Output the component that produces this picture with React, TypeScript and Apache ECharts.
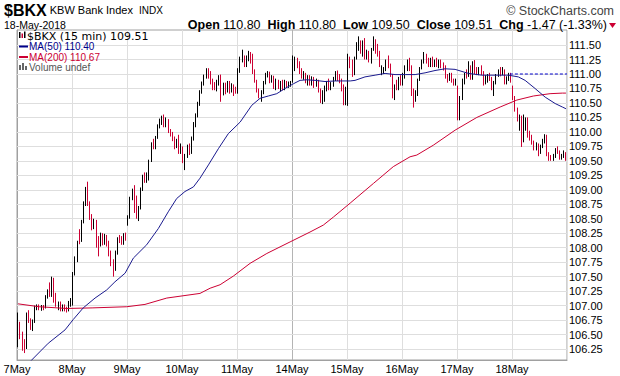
import React, { useEffect, useRef } from "react";
import * as echarts from "echarts";

type Candle = [number, number, number, number]; // open, close, low, high

const dayLabels = ["7May", "8May", "9May", "10May", "11May", "14May", "15May", "16May", "17May", "18May"];

const may07: Candle[] = [
  [106.45, 106.82, 106.28, 106.88], [106.70, 106.50, 106.42, 106.72], [106.50, 106.38, 106.22, 106.55],
  [106.38, 106.30, 106.18, 106.42], [106.30, 106.85, 106.25, 106.88], [106.85, 106.75, 106.70, 106.92],
  [106.75, 106.60, 106.58, 106.78], [106.60, 106.72, 106.56, 106.76], [106.72, 106.95, 106.70, 107.00],
  [106.95, 107.00, 106.92, 107.02], [107.00, 106.94, 106.92, 107.02], [106.94, 106.99, 106.91, 107.01],
  [106.99, 106.96, 106.92, 107.01], [106.96, 107.16, 106.95, 107.18], [107.16, 107.25, 107.12, 107.28],
  [107.38, 107.18, 107.15, 107.40], [107.18, 107.40, 107.15, 107.50], [107.45, 107.08, 107.05, 107.48],
  [107.10, 107.02, 106.98, 107.22], [107.02, 107.05, 106.92, 107.07], [107.05, 106.95, 106.90, 107.07],
  [106.95, 107.00, 106.90, 107.02], [107.00, 106.94, 106.90, 107.02], [106.94, 106.92, 106.88, 106.98],
  [106.92, 107.05, 106.90, 107.08], [107.05, 107.10, 106.98, 107.13],
];
const may08: Candle[] = [
  [107.05, 107.55, 107.00, 107.58], [107.55, 107.80, 107.52, 107.85], [107.80, 108.08, 107.75, 108.12],
  [108.28, 108.12, 108.06, 108.32], [108.12, 108.45, 108.10, 108.48], [108.45, 108.75, 108.42, 108.80],
  [108.75, 109.02, 108.72, 109.05], [109.08, 108.78, 108.72, 109.14], [108.78, 108.55, 108.48, 108.80],
  [108.55, 108.38, 108.30, 108.58], [108.38, 108.45, 108.32, 108.50], [108.45, 108.15, 108.00, 108.48],
  [108.15, 108.05, 107.85, 108.20], [108.05, 108.22, 108.02, 108.26], [108.22, 108.10, 108.04, 108.25],
  [108.10, 108.20, 108.05, 108.24], [108.20, 108.08, 108.02, 108.22], [108.08, 107.92, 107.85, 108.12],
  [107.92, 107.75, 107.68, 107.95], [107.75, 107.62, 107.50, 107.80], [107.62, 107.90, 107.60, 107.95],
  [107.90, 108.15, 107.88, 108.18], [108.18, 108.12, 108.08, 108.22], [108.12, 108.08, 108.05, 108.20],
  [108.08, 108.20, 108.05, 108.25], [108.20, 108.18, 108.12, 108.26],
];
const may09: Candle[] = [
  [108.40, 108.52, 108.38, 108.56], [108.52, 108.85, 108.50, 108.88], [108.85, 108.98, 108.82, 109.02],
  [109.02, 108.65, 108.60, 109.08], [108.85, 108.55, 108.50, 108.90], [108.50, 108.68, 108.46, 108.72],
  [108.68, 109.00, 108.66, 109.04], [109.00, 109.22, 108.98, 109.26], [109.28, 109.16, 109.12, 109.30],
  [109.16, 109.26, 109.12, 109.30], [109.20, 109.50, 109.16, 109.52], [109.50, 109.78, 109.48, 109.82],
  [109.86, 109.74, 109.70, 109.88], [109.74, 109.90, 109.70, 109.93], [109.90, 110.10, 109.88, 110.13],
  [110.10, 110.20, 110.06, 110.23], [110.18, 110.25, 110.12, 110.28], [110.28, 110.12, 110.08, 110.30],
  [110.12, 110.22, 110.08, 110.25], [110.20, 110.02, 109.98, 110.22], [110.02, 109.96, 109.92, 110.05],
  [109.96, 109.88, 109.84, 110.00], [109.90, 109.75, 109.70, 109.92], [109.75, 109.85, 109.72, 109.88],
  [109.90, 109.66, 109.62, 109.95], [109.66, 109.75, 109.62, 109.80],
];
const may10: Candle[] = [
  [109.72, 109.55, 109.46, 109.75], [109.45, 109.58, 109.34, 109.62], [109.58, 109.72, 109.55, 109.78],
  [109.75, 109.65, 109.60, 109.80], [109.65, 109.88, 109.62, 109.92], [109.88, 110.12, 109.85, 110.17],
  [110.12, 110.28, 110.08, 110.32], [110.28, 110.48, 110.25, 110.52], [110.48, 110.70, 110.45, 110.72],
  [110.70, 110.84, 110.66, 110.87], [110.84, 110.96, 110.80, 110.99], [110.96, 111.08, 110.92, 111.10],
  [111.08, 110.98, 110.92, 111.10], [110.98, 110.90, 110.82, 111.05], [110.90, 110.80, 110.72, 110.92],
  [110.82, 110.76, 110.72, 110.86], [110.76, 110.85, 110.70, 110.90], [110.85, 110.95, 110.80, 110.98],
  [110.95, 110.68, 110.52, 110.99], [110.68, 110.78, 110.63, 110.85], [110.80, 110.72, 110.65, 110.85],
  [110.72, 110.85, 110.68, 110.88], [110.85, 110.72, 110.66, 110.88], [110.72, 110.80, 110.68, 110.84],
  [110.80, 110.68, 110.62, 110.82], [110.72, 110.70, 110.66, 110.78],
];
const may11: Candle[] = [
  [110.70, 111.05, 110.66, 111.10], [111.05, 111.25, 111.02, 111.30], [111.25, 111.35, 111.20, 111.42],
  [111.30, 111.18, 111.12, 111.32], [111.18, 111.28, 111.12, 111.32], [111.28, 111.35, 111.22, 111.40],
  [111.35, 111.20, 111.18, 111.38], [111.32, 111.05, 111.00, 111.35], [111.05, 110.88, 110.85, 111.08],
  [110.88, 110.72, 110.68, 110.90], [110.72, 110.62, 110.58, 110.75], [110.62, 110.68, 110.52, 110.72],
  [110.68, 110.85, 110.65, 110.88], [110.85, 110.98, 110.82, 111.02], [110.98, 111.02, 110.94, 111.05],
  [111.02, 110.88, 110.84, 111.04], [110.88, 110.95, 110.85, 110.98], [110.95, 110.78, 110.74, 110.97],
  [110.78, 110.88, 110.72, 110.92], [110.88, 110.78, 110.74, 110.90], [110.78, 110.85, 110.70, 110.88],
  [110.85, 110.75, 110.72, 110.90], [110.75, 110.85, 110.72, 110.90], [110.85, 110.80, 110.76, 110.88],
  [110.80, 110.84, 110.76, 110.87], [110.82, 110.86, 110.78, 110.88],
];
const may14: Candle[] = [
  [110.88, 111.10, 110.85, 111.32], [111.10, 111.25, 111.05, 111.30], [111.25, 111.18, 111.10, 111.28],
  [111.18, 111.05, 111.00, 111.22], [111.05, 110.95, 110.92, 111.10], [110.95, 111.00, 110.90, 111.05],
  [111.00, 110.86, 110.84, 111.02], [110.86, 110.95, 110.80, 110.98], [110.95, 110.85, 110.80, 110.98],
  [110.85, 110.92, 110.80, 110.96], [110.92, 110.82, 110.76, 110.95], [110.82, 110.88, 110.78, 110.92],
  [110.88, 110.72, 110.68, 110.90], [110.72, 110.58, 110.50, 110.75], [110.58, 110.68, 110.48, 110.72],
  [110.68, 110.75, 110.52, 110.80], [110.75, 110.85, 110.70, 110.88], [110.88, 110.78, 110.72, 110.92],
  [110.78, 110.82, 110.72, 110.86], [110.82, 110.92, 110.78, 110.95], [110.92, 111.02, 110.88, 111.05],
  [111.02, 110.95, 110.88, 111.06], [110.95, 110.90, 110.84, 111.00], [110.90, 110.78, 110.70, 110.92],
  [110.78, 110.65, 110.46, 110.82], [110.60, 110.72, 110.46, 110.78],
];
const may15: Candle[] = [
  [110.55, 111.20, 110.45, 111.35], [111.28, 111.18, 111.10, 111.30], [111.18, 111.00, 110.95, 111.25],
  [111.00, 111.28, 110.98, 111.30], [111.28, 111.50, 111.25, 111.55], [111.45, 111.58, 111.40, 111.65],
  [111.55, 111.40, 111.35, 111.58], [111.40, 111.55, 111.30, 111.58], [111.55, 111.35, 111.25, 111.62],
  [111.28, 111.38, 111.25, 111.42], [111.38, 111.22, 111.20, 111.40], [111.22, 111.42, 111.18, 111.45],
  [111.42, 111.58, 111.40, 111.65], [111.58, 111.48, 111.35, 111.60], [111.48, 111.35, 111.30, 111.52],
  [111.35, 111.20, 111.12, 111.40], [111.02, 111.10, 110.98, 111.15], [111.05, 111.10, 111.00, 111.12],
  [111.08, 111.22, 111.05, 111.25], [111.30, 111.15, 111.10, 111.32], [111.15, 110.98, 110.95, 111.18],
  [110.98, 110.65, 110.58, 111.00], [110.65, 110.72, 110.55, 110.82], [110.88, 110.78, 110.72, 110.90],
  [110.78, 110.92, 110.72, 110.95], [110.92, 110.85, 110.80, 110.98],
];
const may16: Candle[] = [
  [110.85, 110.98, 110.80, 111.02], [110.98, 111.10, 110.92, 111.15], [111.10, 111.20, 111.05, 111.25],
  [111.25, 111.10, 111.05, 111.28], [111.10, 110.70, 110.62, 111.15], [110.72, 110.55, 110.42, 110.75],
  [110.55, 110.65, 110.52, 110.72], [110.65, 110.90, 110.62, 110.92], [110.90, 111.10, 110.88, 111.12],
  [111.10, 111.22, 111.08, 111.25], [111.22, 111.32, 111.18, 111.38], [111.32, 111.22, 111.18, 111.35],
  [111.22, 111.15, 111.12, 111.28], [111.15, 111.25, 111.12, 111.28], [111.25, 111.15, 111.12, 111.30],
  [111.15, 111.22, 111.12, 111.25], [111.22, 111.15, 111.12, 111.28], [111.15, 111.22, 111.10, 111.25],
  [111.22, 111.12, 111.10, 111.25], [111.18, 111.10, 111.06, 111.20], [111.10, 110.95, 110.92, 111.15],
  [110.95, 110.92, 110.85, 111.00], [110.92, 111.00, 110.88, 111.02], [111.00, 110.88, 110.85, 111.02],
  [110.88, 110.85, 110.80, 110.92], [110.85, 110.88, 110.80, 110.92],
];
const may17: Candle[] = [
  [110.75, 110.25, 110.20, 110.80], [110.25, 110.58, 110.20, 110.62], [110.58, 110.88, 110.55, 110.92],
  [110.88, 110.98, 110.82, 111.02], [111.05, 110.98, 110.92, 111.08], [110.98, 111.15, 110.95, 111.22],
  [111.12, 110.95, 110.90, 111.15], [110.95, 111.18, 110.90, 111.22], [111.20, 111.05, 111.00, 111.24],
  [111.08, 111.02, 110.98, 111.12], [111.02, 111.10, 110.98, 111.12], [111.12, 111.02, 110.98, 111.15],
  [111.02, 110.85, 110.80, 111.05], [110.85, 110.95, 110.82, 110.98], [110.95, 110.98, 110.85, 111.00],
  [110.98, 110.92, 110.88, 111.02], [110.92, 110.78, 110.72, 110.95], [110.78, 110.85, 110.62, 110.88],
  [110.85, 110.98, 110.82, 111.00], [110.98, 111.06, 110.95, 111.08], [111.08, 111.00, 110.96, 111.12],
  [111.00, 111.05, 110.98, 111.12], [111.05, 110.88, 110.82, 111.08], [110.88, 110.92, 110.82, 110.96],
  [110.92, 111.00, 110.88, 111.02], [111.00, 110.90, 110.85, 111.02],
];
const may18: Candle[] = [
  [110.80, 110.60, 110.55, 110.80], [110.60, 110.40, 110.35, 110.62], [110.40, 110.22, 110.18, 110.42],
  [110.05, 110.25, 110.02, 110.30], [110.25, 109.85, 109.74, 110.28], [109.85, 110.25, 109.82, 110.30],
  [110.05, 110.22, 110.02, 110.25], [110.22, 109.95, 109.90, 110.25], [109.98, 109.90, 109.85, 110.02],
  [109.92, 109.82, 109.78, 109.95], [109.82, 109.72, 109.68, 109.85], [109.72, 109.78, 109.68, 109.82],
  [109.78, 109.65, 109.58, 109.80], [109.65, 109.75, 109.62, 109.78], [109.75, 109.85, 109.72, 109.88],
  [109.85, 109.92, 109.80, 109.96], [109.92, 109.62, 109.58, 109.95], [109.62, 109.52, 109.50, 109.65],
  [109.56, 109.50, 109.50, 109.60], [109.50, 109.58, 109.50, 109.62], [109.58, 109.68, 109.55, 109.72],
  [109.72, 109.65, 109.62, 109.75], [109.65, 109.55, 109.52, 109.68], [109.55, 109.60, 109.52, 109.62],
  [109.58, 109.64, 109.55, 109.68], [109.62, 109.51, 109.50, 109.65],
];

const sessions = [may07, may08, may09, may10, may11, may14, may15, may16, may17, may18];

// [bar index, value]
const ma50Points: [number, number][] = [
  [0, 105.82], [6.45, 106.06], [14.3, 106.35], [22.2, 106.58], [26.1, 106.76], [30.8, 106.96],
  [36.4, 107.13], [41.9, 107.27], [45.8, 107.41], [50.6, 107.56], [54.5, 107.82], [60.8, 108.05],
  [66.3, 108.33], [71, 108.62], [75, 108.85], [78.9, 108.97], [82.9, 109.05], [86, 109.2],
  [90, 109.43], [94.7, 109.71], [99.4, 109.97], [105, 110.17], [110.5, 110.46], [114.4, 110.58],
  [118.3, 110.62], [122.3, 110.66], [126.2, 110.75], [130.1, 110.83], [133.3, 110.89], [136.5, 110.9],
  [140.4, 110.89], [145.1, 110.87], [149.9, 110.88], [157, 110.88], [159.3, 110.89], [164, 110.95],
  [168.8, 110.98], [173.5, 111.01], [178.2, 110.99], [183, 110.99], [187.7, 110.99], [192.4, 111.02],
  [197.1, 111.06], [201.9, 111.09], [206.6, 111.08], [212.9, 111.01], [219.2, 110.98], [225.5, 110.98],
  [231.8, 110.98], [236.5, 110.95], [239.7, 110.89], [244.4, 110.75], [249.2, 110.6], [253.9, 110.49],
  [257.3, 110.43], [259, 110.4],
];
const ma200Points: [number, number][] = [
  [0, 107.03], [10, 106.98], [23, 106.95], [35, 106.96], [51.4, 106.98], [60, 107.02], [70.3, 107.13],
  [86, 107.21], [90.8, 107.3], [95.5, 107.36], [101.8, 107.51], [109.7, 107.73], [117.6, 107.9],
  [128.6, 108.1], [138, 108.27], [144.3, 108.39], [149.1, 108.53], [157, 108.77], [168, 109.11],
  [177.4, 109.4], [185.3, 109.57], [188.5, 109.6], [196.3, 109.77], [206.6, 110.03], [216.9, 110.25],
  [227.9, 110.43], [235.8, 110.55], [243.6, 110.62], [251.5, 110.66], [257.3, 110.67], [259, 110.67],
];

const priceTicks = [
  106.25, 106.5, 106.75, 107, 107.25, 107.5, 107.75, 108, 108.25, 108.5, 108.75,
  109, 109.25, 109.5, 109.75, 110, 110.25, 110.5, 110.75, 111, 111.25, 111.5,
];
const priceMin = 106.06;
const priceMax = 111.76;
const trendLevel = 111.0;
const trendStartBar = 233;

const quote = {
  symbol: "$BKX", name: "KBW Bank Index", exchange: "INDX", date: "18-May-2018",
  open: "110.80", high: "110.80", low: "109.50", close: "109.51", chg: "-1.47 (-1.33%)",
  last: "109.51", ma50: "110.40", ma200: "110.67",
};

const candleData = sessions.flat();
const categories = sessions.flatMap((day, d) => day.map((_, k) => `${dayLabels[d]}-${k + 1}`));

const RED = "#cc0033";
const BLUE = "#1a1a8e";
const F = "'Liberation Sans', Arial, sans-serif";
const FV = "'DejaVu Sans', Verdana, sans-serif";

export default function App() {
  const ref = useRef<HTMLDivElement>(null);
  useEffect(() => {
    document.body.style.margin = "0";
    if (!ref.current) return;
    const chart = echarts.init(ref.current, null, { renderer: "svg" });
    const totalBars = candleData.length;
    const vColors = dayLabels.map((d) => (d === "14May" ? "#b4b4b4" : "#dedede")).concat(["#dedede"]);

    chart.setOption({
      animation: false,
      backgroundColor: "#ffffff",
      grid: { left: 17, right: 53, top: 30, bottom: 16, show: true, borderColor: "#a0a0a0", borderWidth: 1, backgroundColor: "transparent" },
      xAxis: [
        { type: "category", data: categories, boundaryGap: true, show: false },
        {
          type: "value", min: 0, max: totalBars, interval: 26, position: "bottom",
          axisLine: { show: true, lineStyle: { color: "#a0a0a0" } },
          axisTick: { show: false },
          axisLabel: {
            color: "#000", fontSize: 11, fontFamily: F, margin: 3, showMaxLabel: false,
            formatter: (v: number) => dayLabels[Math.round(v / 26)] ?? "",
          },
          splitLine: { show: true, lineStyle: { color: vColors, width: 1 } },
        },
      ],
      yAxis: {
        type: "value", position: "right", min: priceMin, max: priceMax, scale: true,
        axisLine: { show: true, lineStyle: { color: "#a0a0a0" } },
        axisTick: { show: true, length: 4, customValues: priceTicks, lineStyle: { color: "#777" } },
        axisLabel: {
          customValues: priceTicks, color: "#000", fontSize: 11, fontFamily: F, margin: 2,
          formatter: (v: number) => v.toFixed(2),
        },
        splitLine: { show: false },
      },
      series: [
        {
          type: "line", name: "grid", xAxisIndex: 1, yAxisIndex: 0, data: [], silent: true, z: 1,
          markLine: {
            silent: true, z: 1, symbol: ["none", "none"], label: { show: false },
            lineStyle: { color: "#dedede", type: "solid", width: 1 },
            emphasis: { disabled: true },
            data: priceTicks.map((v) => ({ yAxis: v })),
          },
        },
        {
          type: "candlestick", name: quote.symbol, xAxisIndex: 0, yAxisIndex: 0, data: candleData,
          barWidth: 1, z: 3,
          itemStyle: { color: "#000", color0: RED, borderColor: "#000", borderColor0: RED, borderWidth: 1 },
        },
        {
          type: "line", name: "MA(200)", xAxisIndex: 1, yAxisIndex: 0, z: 4,
          data: ma200Points.map(([i, v]) => [i + 0.5, v]),
          showSymbol: false, symbol: "none", lineStyle: { color: RED, width: 1 },
        },
        {
          type: "line", name: "MA(50)", xAxisIndex: 1, yAxisIndex: 0, z: 4,
          data: ma50Points.map(([i, v]) => [i + 0.5, v]),
          showSymbol: false, symbol: "none", lineStyle: { color: BLUE, width: 1 },
        },
        {
          type: "line", name: "trend", xAxisIndex: 1, yAxisIndex: 0, z: 4,
          data: [[trendStartBar, trendLevel], [totalBars, trendLevel]],
          showSymbol: false, symbol: "none", lineStyle: { color: "#0000cc", width: 1, type: [3, 2] },
        },
      ],
      graphic: [
        {
          type: "text", x: 4, y: 10, z: 20,
          style: {
            text: `{s|${quote.symbol}} {n|${quote.name}}  {e|${quote.exchange}}`,
            fontFamily: F, fontSize: 11, fill: "#000", verticalAlign: "middle",
            rich: {
              s: { fontFamily: F, fontSize: 16, fontWeight: "bold", fill: "#000" },
              n: { fontFamily: F, fontSize: 11, fill: "#000" },
              e: { fontFamily: F, fontSize: 10, fill: "#000" },
            },
          },
        },
        { type: "text", x: 614, y: 11, z: 20, style: { text: "\u00A9 StockCharts.com", fontFamily: F, fontSize: 12.5, fill: "#444", align: "right", verticalAlign: "middle" } },
        { type: "text", x: 4, y: 25, z: 20, style: { text: quote.date, fontFamily: F, fontSize: 10.5, fill: "#000", verticalAlign: "middle" } },
        {
          type: "text", x: 607, y: 25, z: 20,
          style: {
            text: `{b|Open} ${quote.open}  {b|High} ${quote.high}  {b|Low} ${quote.low}  {b|Close} ${quote.close}  {b|Chg} ${quote.chg}`,
            fontFamily: F, fontSize: 12.5, fill: "#000", align: "right", verticalAlign: "middle",
            rich: { b: { fontFamily: F, fontSize: 12.5, fontWeight: "bold", fill: "#000" } },
          },
        },
        { type: "polygon", z: 20, shape: { points: [[609, 23], [616, 23], [612.5, 28]] }, style: { fill: RED } },
        // legend
        { type: "rect", z: 20, shape: { x: 19, y: 32, width: 1.5, height: 6 }, style: { fill: "#000" } },
        { type: "rect", z: 20, shape: { x: 21.5, y: 33.5, width: 1.5, height: 4.5 }, style: { fill: RED } },
        { type: "rect", z: 20, shape: { x: 24, y: 31.5, width: 1.5, height: 6.5 }, style: { fill: "#000" } },
        { type: "text", x: 27, y: 36, z: 20, style: { text: `${quote.symbol} (15 min) ${quote.last}`, fontFamily: FV, fontSize: 11, fill: "#000", verticalAlign: "middle" } },
        { type: "line", z: 20, shape: { x1: 19, y1: 46.5, x2: 28, y2: 46.5 }, style: { stroke: "#00008b", lineWidth: 2 } },
        { type: "text", x: 29, y: 46.5, z: 20, style: { text: `MA(50) ${quote.ma50}`, fontFamily: F, fontSize: 10, fill: "#00008b", verticalAlign: "middle" } },
        { type: "line", z: 20, shape: { x1: 19, y1: 57, x2: 28, y2: 57 }, style: { stroke: RED, lineWidth: 2 } },
        { type: "text", x: 29, y: 57, z: 20, style: { text: `MA(200) ${quote.ma200}`, fontFamily: F, fontSize: 10, fill: RED, verticalAlign: "middle" } },
        { type: "rect", z: 20, shape: { x: 19, y: 65, width: 2, height: 5 }, style: { fill: "#666" } },
        { type: "rect", z: 20, shape: { x: 22, y: 63, width: 2, height: 7 }, style: { fill: "#666" } },
        { type: "rect", z: 20, shape: { x: 25, y: 66, width: 2, height: 4 }, style: { fill: "#666" } },
        { type: "text", x: 29, y: 67.5, z: 20, style: { text: "Volume undef", fontFamily: F, fontSize: 10, fill: "#555", verticalAlign: "middle" } },
      ],
    });
    return () => chart.dispose();
  }, []);
  return <div ref={ref} style={{ position: "absolute", left: 0, top: 0, width: 620, height: 376 }} />;
}
